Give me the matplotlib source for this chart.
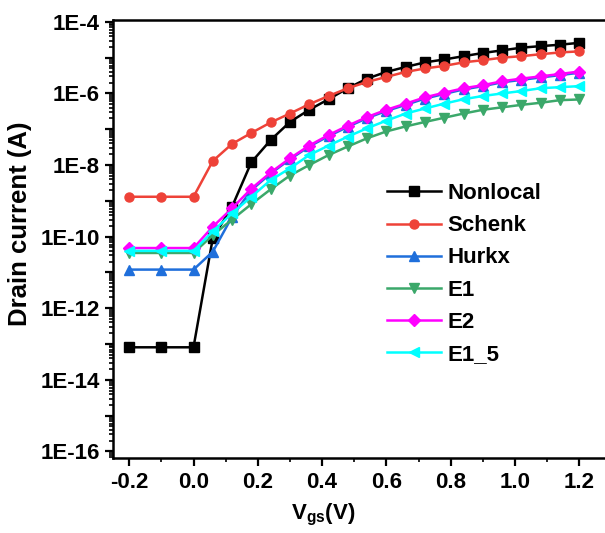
import matplotlib
matplotlib.use("Agg")
import matplotlib.pyplot as plt
from matplotlib.ticker import LogLocator, FuncFormatter, MultipleLocator, FormatStrFormatter, NullFormatter
import numpy as np

plt.rcParams['font.family'] = ['Liberation Sans', 'DejaVu Sans']
plt.rcParams['font.weight'] = 'bold'
plt.rcParams['axes.unicode_minus'] = False
plt.rcParams['mathtext.fontset'] = 'custom'
plt.rcParams['mathtext.rm'] = 'Liberation Sans:bold'
plt.rcParams['mathtext.it'] = 'Liberation Sans:bold'
plt.rcParams['mathtext.bf'] = 'Liberation Sans:bold'

# gate voltage (V)
vgs = [-0.2, -0.1, 0.0, 0.06, 0.12, 0.18, 0.24, 0.30, 0.36, 0.42, 0.48, 0.54,
       0.60, 0.66, 0.72, 0.78, 0.84, 0.90, 0.96, 1.02, 1.08, 1.14, 1.20]

# drain current (A)
nonlocal_id = [8.1e-14, 8.1e-14, 8.1e-14, 9.1e-11, 6.9e-10, 1.2e-8, 5.0e-8, 1.6e-7,
               3.5e-7, 6.9e-7, 1.4e-6, 2.6e-6, 4.0e-6, 5.5e-6, 7.4e-6, 8.9e-6,
               1.1e-5, 1.35e-5, 1.6e-5, 1.9e-5, 2.1e-5, 2.3e-5, 2.6e-5]
schenk_id = [1.3e-9, 1.3e-9, 1.3e-9, 1.3e-8, 3.9e-8, 7.9e-8, 1.55e-7, 2.75e-7,
             5.0e-7, 8.5e-7, 1.4e-6, 2.1e-6, 2.9e-6, 4.0e-6, 5.0e-6, 5.9e-6,
             7.4e-6, 8.5e-6, 1.0e-5, 1.1e-5, 1.25e-5, 1.4e-5, 1.5e-5]
hurkx_id = [1.2e-11, 1.2e-11, 1.2e-11, 3.8e-11, 3.6e-10, 2.0e-9, 5.8e-9, 1.45e-8,
            3.3e-8, 6.4e-8, 1.17e-7, 2.05e-7, 3.25e-7, 4.8e-7, 7.2e-7, 9.7e-7,
            1.3e-6, 1.6e-6, 2.05e-6, 2.4e-6, 2.8e-6, 3.25e-6, 3.8e-6]
e1_id = [3.5e-11, 3.5e-11, 3.5e-11, 1.1e-10, 3.0e-10, 8.1e-10, 2.1e-9, 5.1e-9,
         1.0e-8, 1.9e-8, 3.3e-8, 5.6e-8, 8.7e-8, 1.2e-7, 1.6e-7, 2.1e-7,
         2.75e-7, 3.5e-7, 4.1e-7, 4.8e-7, 5.5e-7, 6.5e-7, 6.8e-7]
e2_id = [4.8e-11, 4.8e-11, 4.8e-11, 1.9e-10, 6.2e-10, 2.2e-9, 6.2e-9, 1.55e-8,
         3.5e-8, 6.9e-8, 1.26e-7, 2.2e-7, 3.5e-7, 5.2e-7, 7.8e-7, 1.05e-6,
         1.4e-6, 1.7e-6, 2.2e-6, 2.6e-6, 3.0e-6, 3.5e-6, 4.1e-6]
e1_5_id = [4.0e-11, 4.0e-11, 4.0e-11, 1.4e-10, 4.5e-10, 1.3e-9, 3.8e-9, 8.1e-9,
           1.9e-8, 3.5e-8, 6.2e-8, 1.07e-7, 1.74e-7, 2.75e-7, 3.8e-7, 5.2e-7,
           6.9e-7, 8.5e-7, 1.0e-6, 1.17e-6, 1.4e-6, 1.5e-6, 1.6e-6]

series = [
    ("Nonlocal", nonlocal_id, "black", "s"),
    ("Schenk", schenk_id, "#EE4238", "o"),
    ("Hurkx", hurkx_id, "#1F6FDB", "^"),
    ("E1", e1_id, "#3BA86A", "v"),
    ("E2", e2_id, "#FF00FF", "D"),
    ("E1_5", e1_5_id, "#00FFFF", "<"),
]

fig = plt.figure(figsize=(6.05, 5.33), dpi=100)
ax = fig.add_axes([0.187, 0.141, 0.813, 0.822])

for name, vals, col, mk in series:
    ms = 6.5 if mk != "D" else 6
    ax.plot(vgs, vals, color=col, marker=mk, markersize=ms, lw=1.8, label=name)

ax.set_yscale("log")
ax.set_xlim(-0.25, 1.28)
ax.set_ylim(10 ** -16.18, 10 ** -3.94)

ax.yaxis.set_major_locator(LogLocator(base=10, numticks=30))
ax.yaxis.set_minor_locator(LogLocator(base=10, subs=np.arange(2, 10), numticks=30))
ax.yaxis.set_minor_formatter(NullFormatter())

def ylab(v, pos):
    e = int(round(np.log10(v)))
    return "1E%d" % e if e % 2 == 0 else ""

ax.yaxis.set_major_formatter(FuncFormatter(ylab))
ax.xaxis.set_major_locator(MultipleLocator(0.2))
ax.xaxis.set_minor_locator(MultipleLocator(0.1))
ax.xaxis.set_major_formatter(FormatStrFormatter("%.1f"))

for s in ["left", "bottom", "top"]:
    ax.spines[s].set_linewidth(1.8)
ax.spines["right"].set_visible(False)

ax.tick_params(which="major", direction="out", length=5.5, width=1.6, labelsize=16)
ax.tick_params(axis="x", which="major", pad=5)
ax.tick_params(axis="y", which="major", pad=4)
ax.tick_params(which="minor", direction="out", length=3, width=1.2)
ax.tick_params(top=False, right=False, which="both")

ax.set_xlabel(r"V$_{gs}$(V)", fontsize=16, fontweight="bold")
ax.xaxis.set_label_coords(0.426, -0.10)
ax.set_ylabel("Drain current (A)", fontsize=18.5, fontweight="bold")
ax.yaxis.set_label_coords(-0.164, 0.535)

ax.legend(loc="upper left", bbox_to_anchor=(0.622, 0.677), bbox_transform=fig.transFigure,
          frameon=False, fontsize=16, handlelength=2.4, handletextpad=0.3,
          labelspacing=0.5, borderpad=0)

fig.savefig("out.png", dpi=100)
